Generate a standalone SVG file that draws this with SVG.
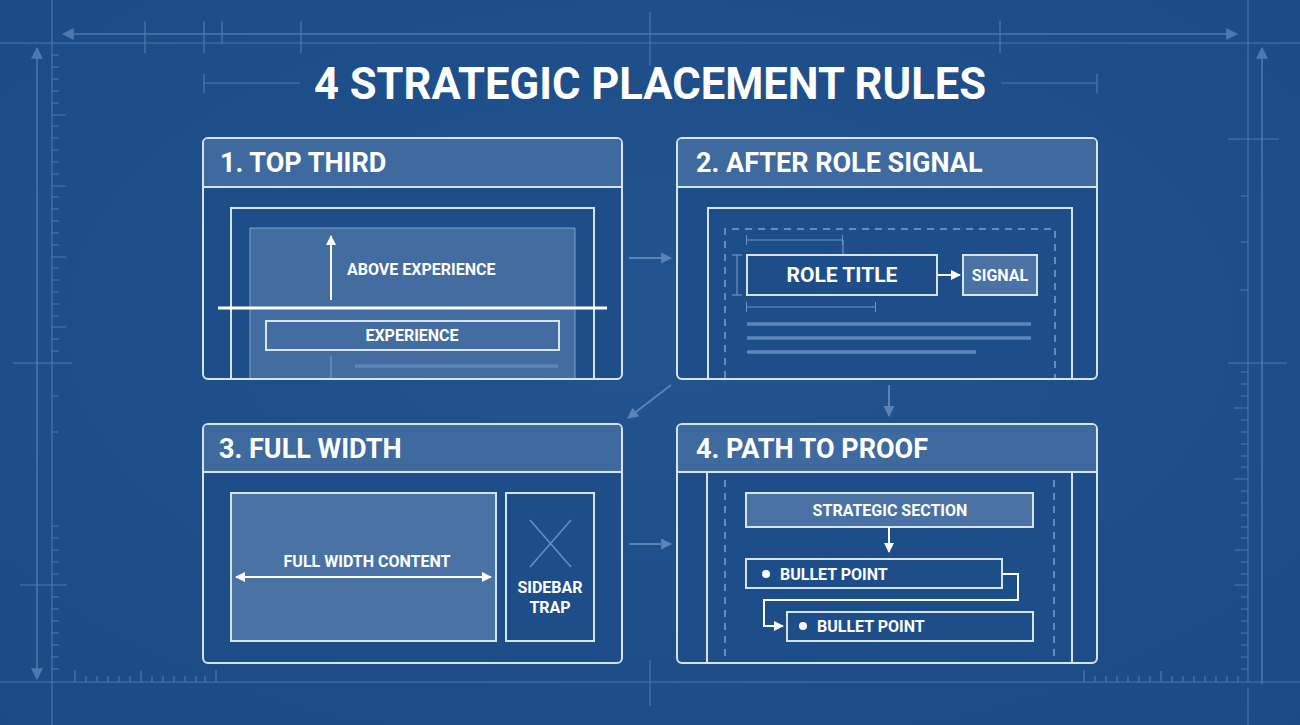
<svg xmlns="http://www.w3.org/2000/svg" width="1300" height="725" viewBox="0 0 1300 725">
<defs>
<radialGradient id="bg" cx="50%" cy="45%" r="75%">
<stop offset="0" stop-color="#23548f"/>
<stop offset="1" stop-color="#1b4a85"/>
</radialGradient>
<marker id="ah" viewBox="0 0 10 10" refX="9" refY="5" markerWidth="10" markerHeight="10" markerUnits="userSpaceOnUse" orient="auto-start-reverse"><path d="M0,0 L10,5 L0,10 Z" fill="#ffffff"/></marker>
<marker id="ahf" viewBox="0 0 10 10" refX="9" refY="5" markerWidth="11" markerHeight="11" markerUnits="userSpaceOnUse" orient="auto-start-reverse"><path d="M0,0 L10,5 L0,10 Z" fill="#5c83b6"/></marker>
<marker id="ahg" viewBox="0 0 10 10" refX="9" refY="5" markerWidth="12" markerHeight="12" markerUnits="userSpaceOnUse" orient="auto-start-reverse"><path d="M0,0 L10,5 L0,10 Z" fill="#4f79ae"/></marker>
<marker id="dt" viewBox="0 0 2 10" refX="1" refY="5" markerWidth="2" markerHeight="10" markerUnits="userSpaceOnUse" orient="auto"><rect x="0" y="0" width="1" height="10" fill="#6e93c2"/></marker>
</defs>
<style>
.grid{stroke:#4a76ad;stroke-width:1.2;fill:none}
.gridA{stroke:#4f79ae;stroke-width:1.5;fill:none}
.tick{stroke:#4f79ae;stroke-width:1.2}
.panel{fill:#1e4e8a;stroke:#d6e5f6;stroke-width:2}
.head{fill:#3e6a9f}
.hline{stroke:#d6e5f6;stroke-width:2}
.ol{fill:none;stroke:#d6e5f6;stroke-width:2}
.lightbox{fill:#4a72a5;stroke:#d6e5f6;stroke-width:2}
.faint{stroke:#6a8fbf;stroke-width:1.5;fill:none}
.dash{stroke:#7d9fcb;stroke-width:1.5;fill:none;stroke-dasharray:7 6}
.bar{stroke:#5f86b8;stroke-width:3.5}
.wline{stroke:#ffffff;stroke-width:2;fill:none}
.conn{stroke:#5c83b6;stroke-width:2;fill:none}
.t{font-family:Roboto,"Liberation Sans",sans-serif;font-weight:700;fill:#ffffff}
.ht{font-size:27px}
.st{font-size:16px}
</style>
<rect width="1300" height="725" fill="url(#bg)"/>

<g id="frame">
<line class="grid" x1="0" y1="43" x2="1300" y2="43"/>
<line class="grid" x1="0" y1="682" x2="1300" y2="682"/>
<line class="grid" x1="52" y1="0" x2="52" y2="725"/>
<line class="grid" x1="1248" y1="0" x2="1248" y2="682"/>
<line class="grid" x1="1248" y1="688" x2="1248" y2="725"/>
<line class="grid" x1="650" y1="12" x2="650" y2="66"/>
<line class="grid" x1="650" y1="660" x2="650" y2="706"/>
<line class="gridA" x1="63" y1="34" x2="1237" y2="34" marker-start="url(#ahg)" marker-end="url(#ahg)"/>
<line class="gridA" x1="37" y1="48" x2="37" y2="679" marker-start="url(#ahg)" marker-end="url(#ahg)"/>
<line class="gridA" x1="1262" y1="48" x2="1262" y2="684" marker-start="url(#ahg)"/>
<line class="tick" x1="145" y1="21" x2="145" y2="53"/>
<line class="tick" x1="204" y1="21" x2="204" y2="53"/>
<line class="tick" x1="222" y1="21" x2="222" y2="43"/>
<line class="tick" x1="301" y1="21" x2="301" y2="53"/>
<line class="tick" x1="1000" y1="21" x2="1000" y2="53"/>
<line class="tick" x1="204" y1="83" x2="300" y2="83"/>
<line class="tick" x1="204" y1="74" x2="204" y2="93"/>
<line class="tick" x1="1001" y1="83" x2="1097" y2="83"/>
<line class="tick" x1="1097" y1="74" x2="1097" y2="93"/>
<line class="tick" x1="13" y1="363" x2="72" y2="363"/>
<line class="tick" x1="20" y1="585" x2="67" y2="585"/>
<line class="tick" x1="1228" y1="139" x2="1279" y2="139"/>
<line class="tick" x1="1228" y1="363" x2="1287" y2="363"/>
<path class="tick" d="M52 55h7M52 67h7M52 79h7M52 91h7M52 103h7M52 115h14M52 126h7M52 138h7M52 150h7M52 162h7M52 174h7M52 186h14M52 197h7M52 209h7M52 221h7M52 233h7M52 245h7M52 257h14M52 268h7M52 280h7M52 292h7M52 304h7M52 316h7M52 327h14M52 339h7M52 351h7M52 396h6M52 432h6M52 526h7M52 538h7M52 550h7M52 562h7M52 574h7M52 597h7M52 609h7M52 621h7M52 633h7M52 645h7M52 657h7M52 669h7"/>
<path class="tick" d="M1248 196h-7M1248 242h-7M1248 290h-8M1248 372h-7M1248 384h-7M1248 396h-7M1248 408h-14M1248 420h-7M1248 432h-7M1248 444h-7M1248 456h-7M1248 467h-7M1248 479h-14M1248 491h-7M1248 503h-7M1248 515h-7M1248 527h-7M1248 538h-7M1248 550h-14M1248 562h-7M1248 574h-7M1248 585h-14M1248 597h-7M1248 609h-7M1248 621h-7M1248 633h-7M1248 645h-7M1248 657h-7M1248 669h-7"/>
<path class="tick" d="M75 682v-12M86 682v-6M97 682v-6M108 682v-6M119 682v-6M130 682v-6M141 682v-11M152 682v-6M163 682v-6M174 682v-6M185 682v-6M196 682v-6M205 682v-6M216 682v-12"/>
<path class="tick" d="M1084 682v-12M1095 682v-6M1106 682v-6M1117 682v-6M1128 682v-6M1139 682v-6M1150 682v-6M1161 682v-11M1172 682v-6M1183 682v-6M1194 682v-6M1205 682v-6M1216 682v-6M1227 682v-6M1238 682v-6"/>
</g>

<g id="title">
<text class="t" x="650" y="99" text-anchor="middle" font-size="44" textLength="672" lengthAdjust="spacingAndGlyphs">4 STRATEGIC PLACEMENT RULES</text>
</g>

<g id="panel1">
<rect class="panel" x="203" y="138" width="419" height="241" rx="5"/>
<path class="head" d="M204 187V143a4 4 0 0 1 4-4H617a4 4 0 0 1 4 4V187Z"/>
<line class="hline" x1="203" y1="187" x2="622" y2="187"/>
<text class="t ht" x="220" y="172">1. TOP THIRD</text>
<path class="ol" d="M231 378V208H594V378"/>
<path d="M250 378V228H575V378" fill="#4a72a5" fill-opacity="0.85" stroke="#7e9fcb" stroke-width="1"/>
<line x1="218" y1="308" x2="607" y2="308" stroke="#ffffff" stroke-width="3"/>
<line class="wline" x1="331" y1="300" x2="331" y2="236" marker-end="url(#ah)"/>
<text class="t st" x="347" y="275">ABOVE EXPERIENCE</text>
<rect class="ol" x="266" y="321" width="293" height="29" fill="#1e4e8a"/>
<text class="t st" x="412" y="341" text-anchor="middle">EXPERIENCE</text>
<line class="faint" x1="331" y1="356" x2="331" y2="378"/>
<line class="bar" x1="355" y1="366" x2="558" y2="366"/>
</g>

<g id="panel2">
<rect class="panel" x="677" y="138" width="420" height="241" rx="5"/>
<path class="head" d="M678 187V143a4 4 0 0 1 4-4H1092a4 4 0 0 1 4 4V187Z"/>
<line class="hline" x1="677" y1="187" x2="1097" y2="187"/>
<text class="t ht" x="696" y="172">2. AFTER ROLE SIGNAL</text>
<path class="ol" d="M708 378V208H1072V378"/>
<path class="dash" d="M725 378V229H1055V378"/>
<line stroke="#6e93c2" stroke-width="1.2" x1="747" y1="240" x2="843" y2="240" marker-start="url(#dt)" marker-end="url(#dt)"/>
<line stroke="#6e93c2" stroke-width="1.2" x1="843" y1="240" x2="843" y2="255"/>
<line stroke="#6e93c2" stroke-width="1.2" x1="737" y1="255" x2="737" y2="295"/>
<line stroke="#6e93c2" stroke-width="1.2" x1="732" y1="255" x2="742" y2="255"/>
<line stroke="#6e93c2" stroke-width="1.2" x1="732" y1="295" x2="742" y2="295"/>
<line stroke="#6e93c2" stroke-width="1.2" x1="747" y1="307" x2="876" y2="307" marker-start="url(#dt)" marker-end="url(#dt)"/>
<rect class="ol" x="747" y="255" width="190" height="40"/>
<text class="t" x="842" y="282" text-anchor="middle" font-size="21">ROLE TITLE</text>
<line class="wline" x1="937" y1="275" x2="960" y2="275" marker-end="url(#ah)"/>
<rect class="lightbox" x="963" y="255" width="74" height="40" fill="#3e6a9f"/>
<text class="t st" x="1000" y="281" text-anchor="middle">SIGNAL</text>
<line class="bar" x1="747" y1="324" x2="1031" y2="324"/>
<line class="bar" x1="747" y1="338" x2="1031" y2="338"/>
<line class="bar" x1="747" y1="352" x2="976" y2="352"/>
</g>

<g id="panel3">
<rect class="panel" x="203" y="424" width="419" height="239" rx="5"/>
<path class="head" d="M204 472V429a4 4 0 0 1 4-4H617a4 4 0 0 1 4 4V472Z"/>
<line class="hline" x1="203" y1="472" x2="622" y2="472"/>
<text class="t ht" x="219" y="458">3. FULL WIDTH</text>
<rect class="lightbox" x="231" y="493" width="265" height="148"/>
<text class="t st" x="367" y="567" text-anchor="middle">FULL WIDTH CONTENT</text>
<line class="wline" x1="236" y1="577" x2="491" y2="577" marker-start="url(#ah)" marker-end="url(#ah)"/>
<rect class="ol" x="506" y="493" width="88" height="148"/>
<path class="faint" d="M530 520L571 567M571 520L530 567" stroke-width="2"/>
<text class="t st" x="550" y="593" text-anchor="middle">SIDEBAR</text>
<text class="t st" x="550" y="613" text-anchor="middle">TRAP</text>
</g>

<g id="panel4">
<rect class="panel" x="677" y="424" width="420" height="239" rx="5"/>
<path class="head" d="M678 472V429a4 4 0 0 1 4-4H1092a4 4 0 0 1 4 4V472Z"/>
<line class="hline" x1="677" y1="472" x2="1097" y2="472"/>
<text class="t ht" x="696" y="458">4. PATH TO PROOF</text>
<line class="ol" x1="707" y1="472" x2="707" y2="662"/>
<line class="ol" x1="1072" y1="472" x2="1072" y2="662"/>
<line class="dash" x1="725" y1="480" x2="725" y2="660"/>
<line class="dash" x1="1054" y1="480" x2="1054" y2="660"/>
<rect class="lightbox" x="746" y="493" width="287" height="34"/>
<text class="t st" x="890" y="516" text-anchor="middle">STRATEGIC SECTION</text>
<line class="wline" x1="889" y1="527" x2="889" y2="552" marker-end="url(#ah)"/>
<rect class="ol" x="746" y="559" width="256" height="29"/>
<circle cx="766" cy="574" r="4" fill="#ffffff"/>
<text class="t st" x="780" y="580">BULLET POINT</text>
<path class="wline" d="M1002 574H1018V600H764V626H783" marker-end="url(#ah)"/>
<rect class="ol" x="787" y="612" width="246" height="29"/>
<circle cx="803" cy="626" r="4" fill="#ffffff"/>
<text class="t st" x="817" y="632">BULLET POINT</text>
</g>

<g id="connectors">
<line class="conn" x1="629" y1="258" x2="671" y2="258" marker-end="url(#ahf)"/>
<line class="conn" x1="671" y1="385" x2="628" y2="418" marker-end="url(#ahf)"/>
<line class="conn" x1="889" y1="385" x2="889" y2="416" marker-end="url(#ahf)"/>
<line class="conn" x1="629" y1="544" x2="671" y2="544" marker-end="url(#ahf)"/>
</g>
</svg>
